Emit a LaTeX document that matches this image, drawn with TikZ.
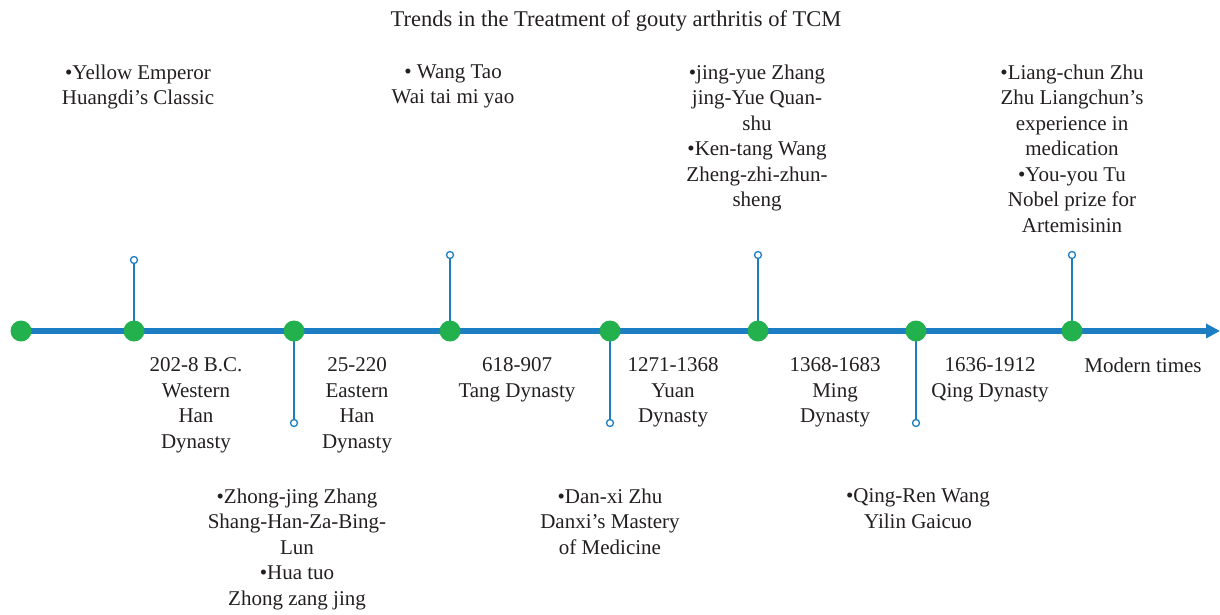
\documentclass[tikz,border=0pt]{standalone}
\usepackage{fontspec}
\setmainfont{Liberation Serif}
\usetikzlibrary{arrows.meta}
\definecolor{tlblue}{HTML}{1C7DC2}
\definecolor{tlgreen}{HTML}{22B14C}
\definecolor{txt}{HTML}{231F20}
\begin{document}
\begin{tikzpicture}[x=1pt,y=-1pt,
  dot/.style={circle,fill=tlgreen,minimum size=21pt,inner sep=0},
  tipc/.style={circle,draw=tlblue,fill=white,line width=1.3pt,minimum size=7pt,inner sep=0},
  stem/.style={draw=tlblue,line width=2pt},
  axis/.style={draw=tlblue,line width=6pt,-{Triangle[length=14pt,width=14pt]}},
  lbl/.style={align=center,inner sep=0,anchor=north,text=txt,font=\fontsize{21}{25.5}\selectfont}]
\useasboundingbox (0,0) rectangle (1220,614);
% axis
\coordinate (start) at (21,331);
\coordinate (end) at (1220,331);
\draw[axis] (start) -- (end);
% dots (positions)
\coordinate (p0) at (21,331);
\coordinate (p1) at (134,331);
\coordinate (p2) at (294,331);
\coordinate (p3) at (450,331);
\coordinate (p4) at (610,331);
\coordinate (p5) at (758,331);
\coordinate (p6) at (916,331);
\coordinate (p7) at (1072,331);
% stem tips
\node[tipc] (t1) at (134,260) {};
\node[tipc] (t2) at (294,423) {};
\node[tipc] (t3) at (450,255) {};
\node[tipc] (t4) at (610,423) {};
\node[tipc] (t5) at (758,255) {};
\node[tipc] (t6) at (916,423) {};
\node[tipc] (t7) at (1072,255) {};
\foreach \i in {1,...,7} {\draw[stem] (p\i) -- (t\i);}
\foreach \i in {0,...,7} {\node[dot] (d\i) at (p\i) {};}
% title
\node[lbl,font=\fontsize{22.5}{26}\selectfont] (title) at (616,10) {Trends in the Treatment of gouty arthritis of TCM};
% top texts
\node[lbl] (u1) at (138,64.5) {•Yellow Emperor\\Huangdi’s Classic};
\node[lbl] (u3) at (453,64.5) {• Wang Tao\\Wai tai mi yao};
\node[lbl] (u5) at (757,64.5) {•jing-yue Zhang\\jing-Yue Quan-\\shu\\•Ken-tang Wang\\Zheng-zhi-zhun-\\sheng};
\node[lbl] (u7) at (1072,64.5) {•Liang-chun Zhu\\Zhu Liangchun’s\\experience in\\medication\\•You-you Tu\\Nobel prize for\\Artemisinin};
% period texts
\node[lbl] (e1) at (196,357.5) {202-8 B.C.\\Western\\Han\\Dynasty};
\node[lbl] (e2) at (357,357.5) {25-220\\Eastern\\Han\\Dynasty};
\node[lbl] (e3) at (517,357.5) {618-907\\Tang Dynasty};
\node[lbl] (e4) at (673,357.5) {1271-1368\\Yuan\\Dynasty};
\node[lbl] (e5) at (835,357.5) {1368-1683\\Ming\\Dynasty};
\node[lbl] (e6) at (990,357.5) {1636-1912\\Qing Dynasty};
\node[lbl] (e7) at (1143,357.5) {Modern times};
% bottom texts
\node[lbl] (b2) at (297,488.5) {•Zhong-jing Zhang\\Shang-Han-Za-Bing-\\Lun\\•Hua tuo\\Zhong zang jing};
\node[lbl] (b4) at (610,488.5) {•Dan-xi Zhu\\Danxi’s Mastery\\of Medicine};
\node[lbl] (b6) at (918,488.5) {•Qing-Ren Wang\\Yilin Gaicuo};
\end{tikzpicture}
\end{document}
